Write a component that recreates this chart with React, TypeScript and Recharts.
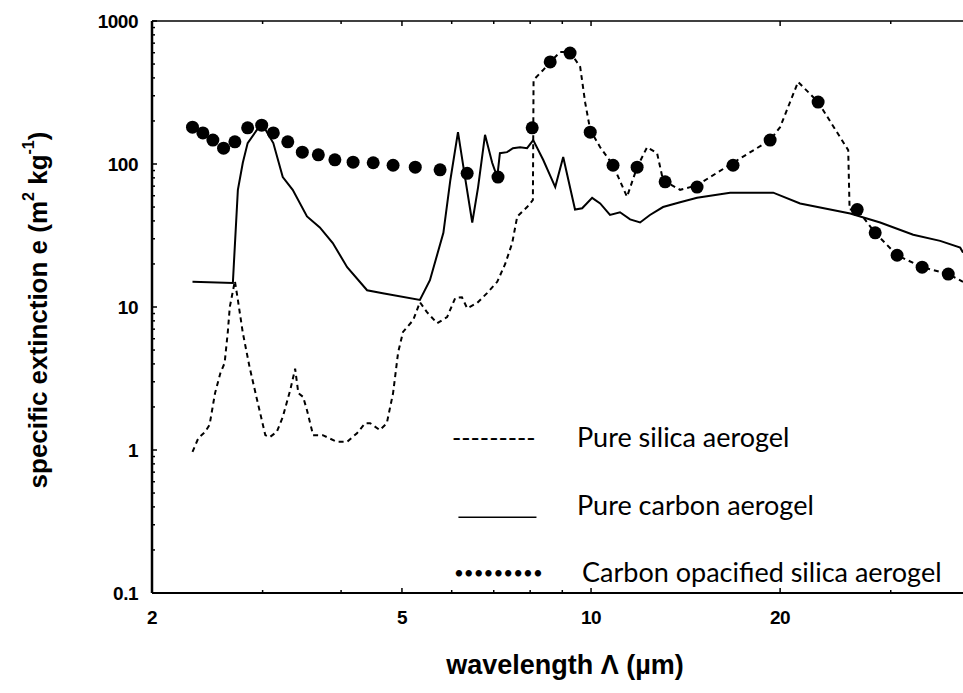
import { LineChart, Line, XAxis, YAxis } from 'recharts'

// wavelength (µm) / specific extinction (m2 kg-1)
const silicaWavelength = [
  2.32, 2.37, 2.43, 2.47, 2.52, 2.57, 2.61, 2.64, 2.66, 2.71, 2.74, 2.79, 2.86, 2.94, 3.03, 3.08,
  3.16, 3.23, 3.32, 3.38, 3.42, 3.48, 3.53, 3.61, 3.74, 3.94, 4.09, 4.24, 4.37, 4.45, 4.61, 4.73,
  4.84, 4.93, 5.02, 5.21, 5.34, 5.48, 5.69, 5.9, 6.08, 6.23, 6.35, 6.59, 6.83, 7.09, 7.3, 7.49,
  7.63, 7.91, 8.08, 8.09, 8.1, 8.39, 8.61, 8.93, 9.26, 9.61, 9.79, 9.97, 10.34, 10.84, 11.41, 11.84,
  12.28, 12.74, 13.02, 13.86, 14.75, 16.83, 19.28, 20.0, 21.36, 22.99, 25.67, 25.8, 26.53, 28.34,
  30.71, 33.66, 37.04, 39.1,
]
const silicaExtinction = [
  0.97, 1.21, 1.34, 1.5, 2.5, 3.45, 4.06, 6.6, 10, 15.2, 11.2, 6.6, 3.8, 2.24, 1.27, 1.23,
  1.34, 1.7, 2.63, 3.7, 2.5, 2.35, 1.9, 1.27, 1.27, 1.14, 1.14, 1.31, 1.54, 1.54, 1.38, 1.54,
  2.5, 4.8, 6.7, 8.1, 10.8, 9.2, 7.7, 8.5, 11.6, 11.7, 9.8, 10.7, 12.5, 15, 20, 28,
  43, 50, 56, 147, 387, 454, 517, 607, 607, 477, 267, 173, 131, 98, 59, 95,
  131, 119, 77, 66, 71, 102, 147, 181, 375, 271, 125, 48, 48, 33,
  23, 19, 17, 15,
]

const carbonWavelength = [
  2.32, 2.69, 2.7, 2.74, 2.79, 2.84, 2.99, 3.12, 3.23, 3.35, 3.53, 3.7, 3.88, 4.09, 4.4, 4.66,
  5.34, 5.54, 5.82, 5.97, 6.14, 6.3, 6.47, 6.61, 6.78, 6.96, 7.09, 7.16, 7.35, 7.51, 7.71, 7.91,
  8.09, 8.39, 8.77, 9.03, 9.43, 9.68, 10.04, 10.34, 10.72, 11.12, 11.54, 11.97, 12.41, 13.02, 13.86,
  14.75, 16.65, 19.5, 21.52, 25.86, 28.86, 32.58, 35.96, 38.7, 39.1,
]
const carbonExtinction = [
  15, 14.7, 20, 66, 102, 140, 193, 140, 81, 66, 43, 36, 28, 19, 13.1, 12.5,
  11.2, 15.4, 33, 77, 167, 81, 39, 69, 160, 102, 81, 119, 121, 129, 131, 129,
  147, 107, 69, 112, 48, 49, 58, 53, 44, 46, 41, 39, 44, 50, 54,
  58, 63, 63, 53, 45, 39, 32, 29, 26, 24,
]

const opacifiedWavelength = [
  2.32, 2.41, 2.5, 2.6, 2.71, 2.84, 2.99, 3.12, 3.29, 3.47, 3.68, 3.91, 4.18, 4.5, 4.84, 5.25,
  5.75, 6.35, 7.11, 8.06, 8.61, 9.26, 9.97, 10.84, 11.84, 13.12, 14.75, 16.83, 19.28, 22.99,
  26.53, 28.34, 30.71, 33.66, 37.04,
]
const opacifiedExtinction = [
  181, 165, 147, 129, 143, 179, 187, 165, 143, 121, 116, 107, 103, 102, 98, 95,
  91, 86, 81, 179, 517, 597, 167, 98, 95, 75, 69, 98, 147, 271,
  48, 33, 23, 19, 17,
]

const xMajorTicks = [2, 5, 10, 20]
const xMinorTicks = [3, 4, 6, 7, 8, 9, 30]
const yMajorTicks = [0.1, 1, 10, 100, 1000]
const yMinorTicks = [
  0.2, 0.3, 0.4, 0.5, 0.6, 0.7, 0.8, 0.9, 2, 3, 4, 5, 6, 7, 8, 9,
  20, 30, 40, 50, 60, 70, 80, 90, 200, 300, 400, 500, 600, 700, 800, 900,
]
const xTickLabels = ['2', '5', '10', '20']
const yTickLabels = ['0.1', '1', '10', '100', '1000']
const legendLabels = ['Pure silica aerogel', 'Pure carbon aerogel', 'Carbon opacified silica aerogel']

const silica = silicaWavelength.map((w, i) => ({ w, e: silicaExtinction[i] }))
const carbon = carbonWavelength.map((w, i) => ({ w, e: carbonExtinction[i] }))
const opacified = opacifiedWavelength.map((w, i) => ({ w, e: opacifiedExtinction[i] }))

const axisFont = '"Liberation Sans", Arial, sans-serif'
const legendFont = 'Lato, "Open Sans", sans-serif'

function BottomTick({ x, y, payload }: any) {
  const idx = xMajorTicks.indexOf(payload.value)
  const major = idx >= 0
  return (
    <g>
      <line x1={x} x2={x} y1={y} y2={y - (major ? 5 : 3)} stroke="#000" strokeWidth={1.5} />
      {major && (
        <text
          x={x}
          y={y + 24}
          textAnchor="middle"
          dominantBaseline="central"
          fontFamily={axisFont}
          fontWeight="bold"
          fontSize={19}
          letterSpacing={-0.5}
          fill="#000"
        >
          {xTickLabels[idx]}
        </text>
      )}
    </g>
  )
}

function TopTick({ x, y, payload }: any) {
  const major = xMajorTicks.includes(payload.value)
  return <line x1={x} x2={x} y1={y} y2={y + (major ? 5 : 3)} stroke="#000" strokeWidth={1.5} />
}

function LeftTick({ x, y, payload }: any) {
  const idx = yMajorTicks.indexOf(payload.value)
  const major = idx >= 0
  return (
    <g>
      <line x1={x} x2={x + (major ? 5 : 3)} y1={y} y2={y} stroke="#000" strokeWidth={1.5} />
      {major && (
        <text
          x={x - 14}
          y={y}
          textAnchor="end"
          dominantBaseline="central"
          fontFamily={axisFont}
          fontWeight="bold"
          fontSize={19}
          letterSpacing={-0.5}
          fill="#000"
        >
          {yTickLabels[idx]}
        </text>
      )}
    </g>
  )
}

function YTitle({ viewBox }: any) {
  const cx = viewBox.x + 38
  const cy = viewBox.y + viewBox.height / 2 + 3
  return (
    <text
      x={cx}
      y={cy}
      transform={`rotate(-90 ${cx} ${cy})`}
      textAnchor="middle"
      dominantBaseline="central"
      fontFamily={axisFont}
      fontWeight="bold"
      fontSize={26}
      fill="#000"
    >
      specific extinction e (m
      <tspan dy={-10} fontSize={16}>2</tspan>
      <tspan dy={10}> kg</tspan>
      <tspan dy={-10} fontSize={16}>-1</tspan>
      <tspan dy={10}>)</tspan>
    </text>
  )
}

function XTitle({ viewBox }: any) {
  return (
    <text
      x={viewBox.x + 413}
      y={viewBox.y + 72}
      textAnchor="middle"
      dominantBaseline="central"
      fontFamily={axisFont}
      fontWeight="bold"
      fontSize={27}
      fill="#000"
    >
      wavelength Λ (µm)
    </text>
  )
}

function LegendOverlay() {
  const common = { fontFamily: legendFont, fill: '#000' }
  return (
    <svg
      width={963}
      height={693}
      style={{ position: 'absolute', left: 0, top: 0, pointerEvents: 'none' }}
    >
      <text x={452} y={447} fontSize={25} {...common}>---------</text>
      <text x={577} y={447} fontSize={27} {...common}>{legendLabels[0]}</text>
      <text x={452} y={514} fontSize={27} textLength={91} lengthAdjust="spacingAndGlyphs" {...common}>
        _
      </text>
      <text x={577} y={515} fontSize={27} {...common}>{legendLabels[1]}</text>
      <text x={454} y={579} fontSize={17} {...common}>•••••••••</text>
      <text x={582} y={582} fontSize={27} {...common}>{legendLabels[2]}</text>
    </svg>
  )
}

export default function App() {
  return (
    <div style={{ position: 'absolute', left: 0, top: 0, width: 963, height: 693, background: '#fff' }}>
      <LineChart width={963} height={693} margin={{ top: 0, right: 0, bottom: 0, left: 0 }}>
        <XAxis
          dataKey="w"
          type="number"
          scale="log"
          domain={[2, 39.1]}
          allowDataOverflow
          ticks={[...xMajorTicks, ...xMinorTicks]}
          interval={0}
          tickSize={0}
          tickMargin={0}
          tickLine={false}
          tick={<BottomTick />}
          height={100}
          axisLine={{ stroke: '#000', strokeWidth: 2 }}
          label={<XTitle />}
        />
        <XAxis
          xAxisId="top"
          orientation="top"
          dataKey="w"
          type="number"
          scale="log"
          domain={[2, 39.1]}
          allowDataOverflow
          ticks={[...xMajorTicks, ...xMinorTicks]}
          interval={0}
          tickSize={0}
          tickMargin={0}
          tickLine={false}
          tick={<TopTick />}
          height={21}
          axisLine={{ stroke: '#000', strokeWidth: 1.5 }}
        />
        <YAxis
          dataKey="e"
          type="number"
          scale="log"
          domain={[0.1, 1000]}
          allowDataOverflow
          ticks={[...yMajorTicks, ...yMinorTicks]}
          interval={0}
          tickSize={0}
          tickMargin={0}
          tickLine={false}
          tick={<LeftTick />}
          width={152}
          axisLine={{ stroke: '#000', strokeWidth: 2.5 }}
          label={<YTitle />}
        />
        <Line
          data={silica}
          dataKey="e"
          type="linear"
          stroke="#000"
          strokeWidth={2}
          strokeDasharray="5 4"
          dot={false}
          isAnimationActive={false}
        />
        <Line
          data={carbon}
          dataKey="e"
          type="linear"
          stroke="#000"
          strokeWidth={2}
          dot={false}
          isAnimationActive={false}
        />
        <Line
          data={opacified}
          dataKey="e"
          type="linear"
          stroke="none"
          dot={{ r: 6.5, fill: '#000', stroke: 'none' }}
          isAnimationActive={false}
        />
      </LineChart>
      <LegendOverlay />
    </div>
  )
}
